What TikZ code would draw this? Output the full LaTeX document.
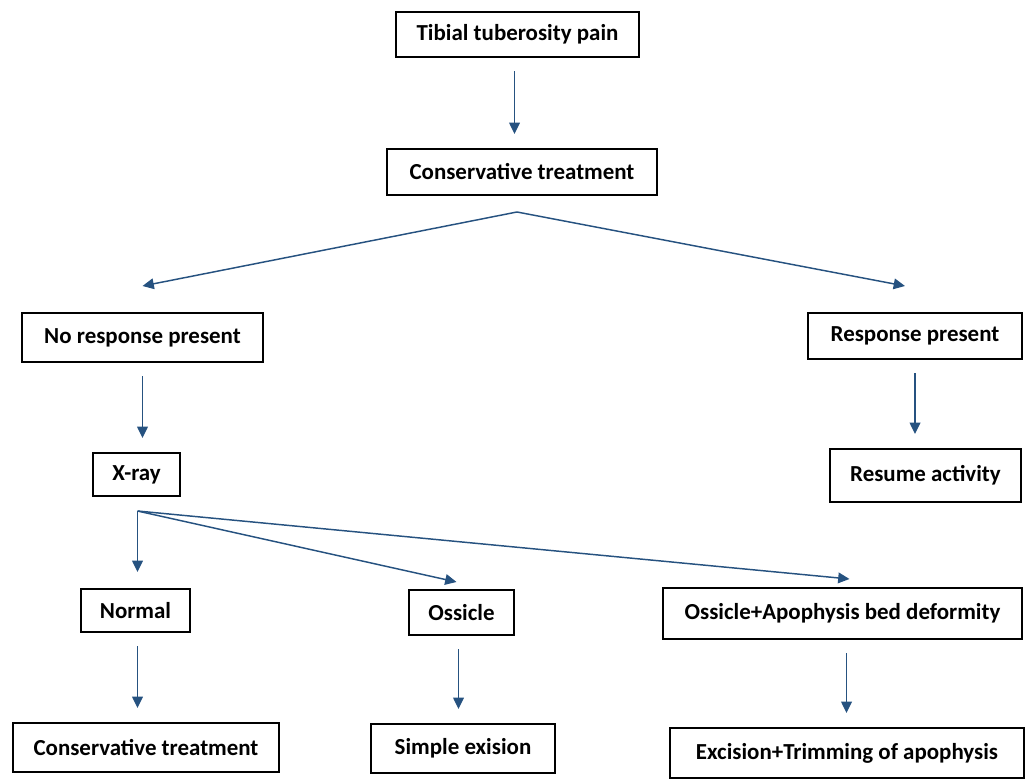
\documentclass[tikz,border=0pt]{standalone}
\usepackage{fontspec}
\setmainfont{Carlito}
\usetikzlibrary{arrows.meta,calc}
\definecolor{arrblue}{RGB}{38,82,128}
\tikzset{
  box/.style={draw, rectangle, line width=1.5pt, inner sep=0pt, font=\bfseries\fontsize{17.2}{20}\selectfont},
  arr/.style={draw=arrblue, line width=1.1pt, -{Triangle[length=8.5pt,width=8pt,fill=arrblue]}},
  gap/.style={shorten <=10pt, shorten >=10.5pt}
}
\begin{document}
\begin{tikzpicture}[x=0.75pt,y=0.75pt,yscale=-1,xscale=1]
\path[use as bounding box] (0,0) rectangle (1032,780);

%Shape: Rectangle [id:pain]
\node[box, minimum width=243*0.75pt, minimum height=45*0.75pt] (pain) at (517.5,34.5) {Tibial tuberosity pain};
%Shape: Rectangle [id:cons1]
\node[box, minimum width=270*0.75pt, minimum height=46*0.75pt] (cons1) at (522,172) {Conservative treatment};
%Shape: Rectangle [id:nores]
\node[box, minimum width=241*0.75pt, minimum height=49*0.75pt] (nores) at (142.5,337.5) {No response present};
%Shape: Rectangle [id:res]
\node[box, minimum width=214*0.75pt, minimum height=46*0.75pt] (res) at (915,336) {Response present};
%Shape: Rectangle [id:xray]
\node[box, minimum width=87*0.75pt, minimum height=43*0.75pt] (xray) at (136.5,474.5) {X-ray};
%Shape: Rectangle [id:resume]
\node[box, minimum width=191*0.75pt, minimum height=53*0.75pt] (resume) at (925.5,475.5) {Resume activity};
%Shape: Rectangle [id:normal]
\node[box, minimum width=109*0.75pt, minimum height=43*0.75pt] (normal) at (135.5,610.5) {Normal};
%Shape: Rectangle [id:ossicle]
\node[box, minimum width=105*0.75pt, minimum height=45*0.75pt] (ossicle) at (461.5,612.5) {Ossicle};
%Shape: Rectangle [id:osapo]
\node[box, minimum width=359*0.75pt, minimum height=51*0.75pt] (osapo) at (842.5,613.5) {Ossicle+Apophysis bed deformity};
%Shape: Rectangle [id:cons2]
\node[box, minimum width=266*0.75pt, minimum height=49*0.75pt] (cons2) at (146,747.5) {Conservative treatment};
%Shape: Rectangle [id:simple]
\node[box, minimum width=184*0.75pt, minimum height=49*0.75pt] (simple) at (463,748.5) {Simple exision};
%Shape: Rectangle [id:excis]
\node[box, minimum width=354*0.75pt, minimum height=50*0.75pt] (excis) at (847,753) {Excision+Trimming of apophysis};

%Straight Lines [id:down]
\draw[arr, gap] ($(pain.south)+(-3,0)$) -- ($(pain.south |- cons1.north)+(-3,0)$);
\draw[arr, gap] (nores.south) -- (nores.south |- xray.north);
\draw[arr, gap] (res.south) -- (res.south |- resume.north);
\draw[arr, gap] ($(normal.south)+(2,0)$) -- ($(normal.south |- cons2.north)+(2,0)$);
\draw[arr, gap] ($(ossicle.south)+(-3,0)$) -- ($(ossicle.south |- simple.north)+(-3,0)$);
\draw[arr, gap] ($(osapo.south)+(4,0)$) -- ($(osapo.south |- excis.north)+(4,0)$);

%Straight Lines [id:split]
\coordinate (split) at ($(cons1.south)+(-5,16)$);
\draw[arr] (split) -- ($(nores.north)+(0,-26)$);
\draw[arr] (split) -- ($(res.north)+(-10,-26)$);

%Straight Lines [id:fan]
\coordinate (fan) at ($(xray.south)+(1,14)$);
\draw[arr] (fan) -- ($(normal.north)+(2,-16)$);
\draw[arr] (fan) -- ($(ossicle.north)+(-5,-7)$);
\draw[arr] (fan) -- ($(osapo.north)+(7,-8)$);

\end{tikzpicture}
\end{document}
